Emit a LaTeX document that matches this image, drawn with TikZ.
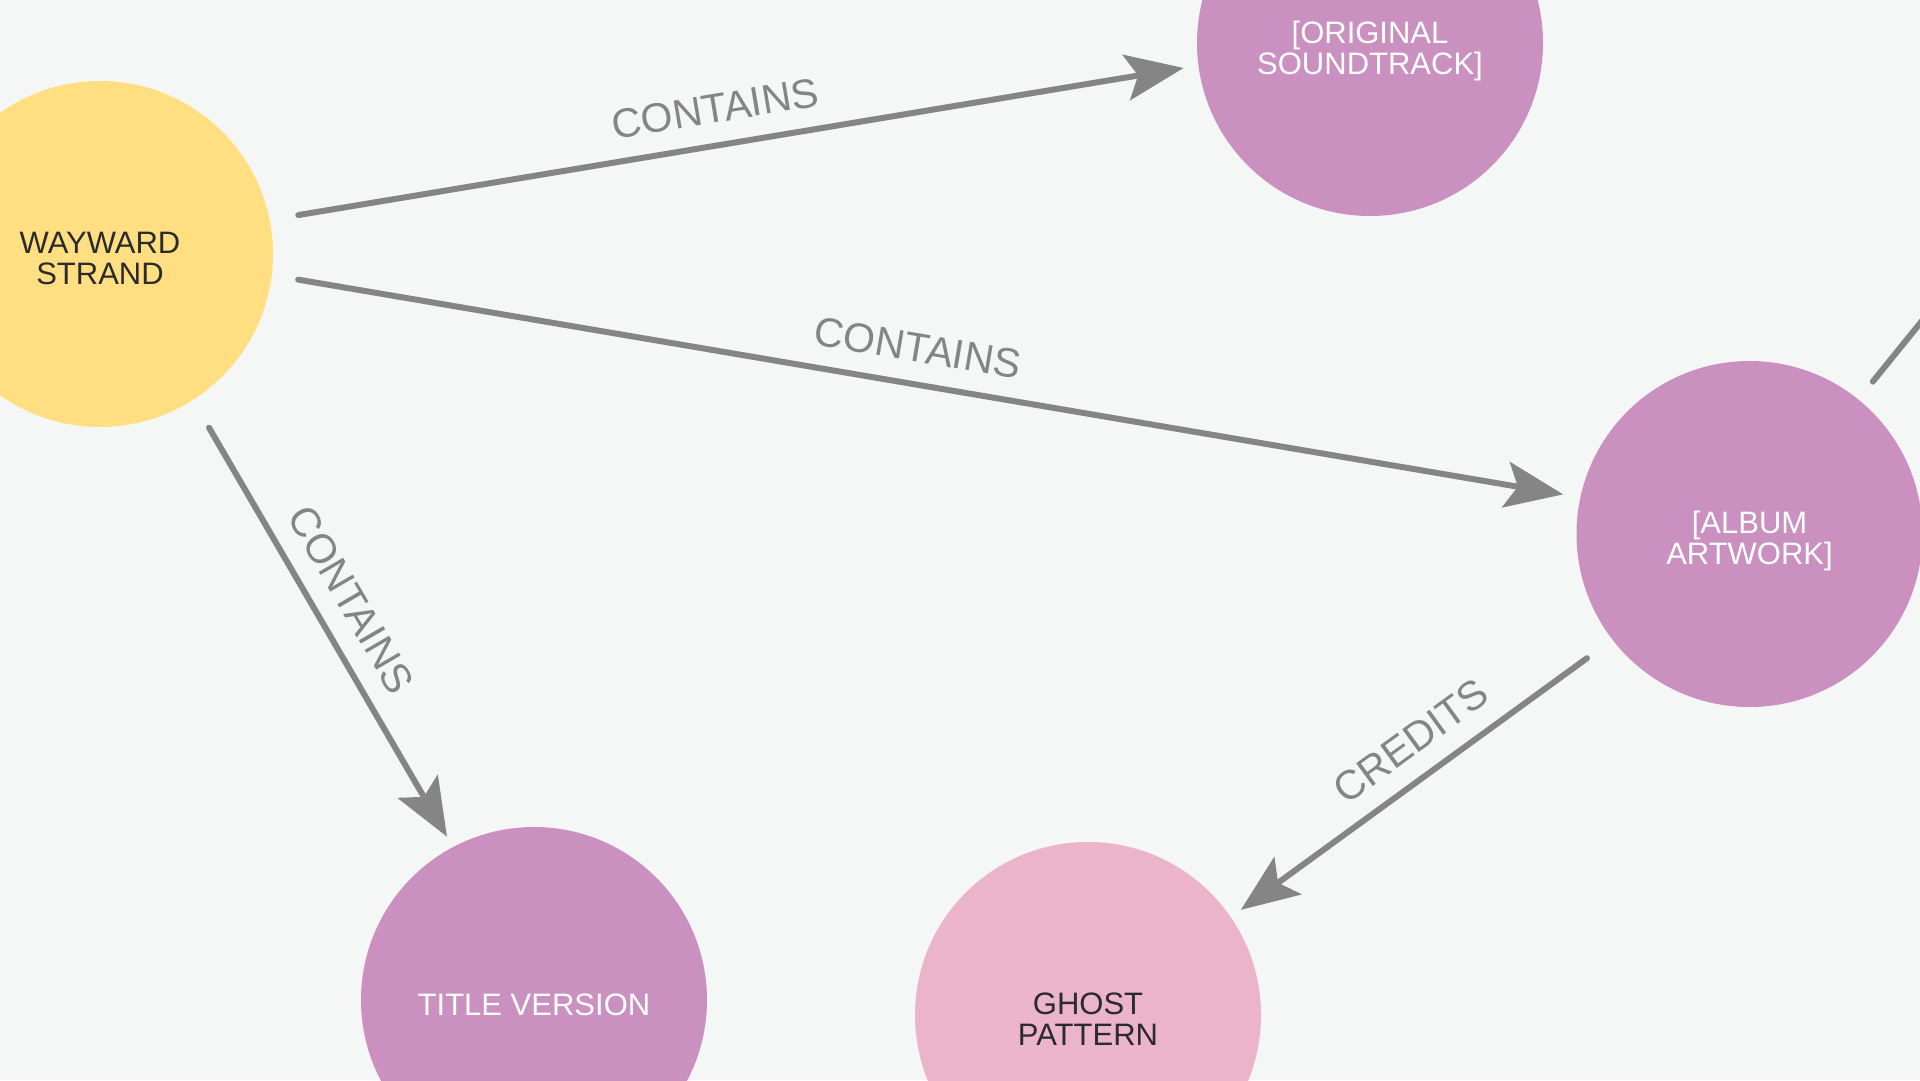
\documentclass[tikz,border=0pt]{standalone}
\usepackage{fontspec}
\setmainfont{Liberation Sans}
\usetikzlibrary{arrows.meta}
\definecolor{bg}{HTML}{F5F6F6}
\definecolor{yel}{HTML}{FFDF81}
\definecolor{pur}{HTML}{C990C0}
\definecolor{pnk}{HTML}{ECB4C9}
\definecolor{edgegray}{HTML}{858585}
\definecolor{darktext}{HTML}{2B2B2B}
\begin{document}
\begin{tikzpicture}[x=1pt,y=-1pt,
  ent/.style={circle, minimum size=346pt, inner sep=0pt, outer sep=0pt},
  ntxt/.style={inner sep=0pt, align=center, font=\fontsize{31}{31}\selectfont},
  rel/.style={draw=edgegray, line width=6pt, line cap=round,
    shorten <=28pt, shorten >=16pt,
    -{Stealth[length=58pt,width=46pt,inset=12pt]}},
  plainrel/.style={draw=edgegray, line width=6pt, line cap=round, shorten <=23pt},
  lbl/.style={sloped, above=19pt, inner sep=0pt, text=edgegray,
    font=\fontsize{41}{41}\selectfont}]
\useasboundingbox (0,0) rectangle (1920,1080);
\clip (0,0) rectangle (1920,1080);
\fill[bg] (0,0) rectangle (1920,1080);

\node[ent, fill=yel] (w) at (100,254) {};
\node[ent, fill=pur] (s) at (1370,43) {};
\node[ent, fill=pur] (a) at (1749.5,534) {};
\node[ent, fill=pur] (t) at (534,1000) {};
\node[ent, fill=pnk] (g) at (1088,1015) {};
\coordinate (off) at (2040,175);

\node[ntxt, text=darktext] (wt) at ([yshift=-4pt]w.center) {WAYWARD\\STRAND};
\node[ntxt, text=white] (st) at ([yshift=-8pt]s.center) {[ORIGINAL\\SOUNDTRACK]};
\node[ntxt, text=white] (at) at ([yshift=-7pt]a.center) {[ALBUM\\ARTWORK]};
\node[ntxt, text=white] (tt) at ([yshift=-5pt]t.center) {TITLE VERSION};
\node[ntxt, text=darktext] (gt) at ([yshift=-4pt]g.center) {GHOST\\PATTERN};

\draw[rel, transform canvas={yshift=6pt}] (w) -- node[lbl, pos=0.485] {CONTAINS} (s);
\draw[rel, transform canvas={yshift=8pt}] (w) -- node[lbl, pos=0.49] {CONTAINS} (a);
\draw[rel, transform canvas={xshift=8pt}] (w) -- node[lbl, pos=0.48] {CONTAINS} (t);
\draw[rel, transform canvas={yshift=-6pt}] (a) -- node[lbl, pos=0.465] {CREDITS} (g);
\draw[plainrel] (a) -- (off);
\end{tikzpicture}
\end{document}
